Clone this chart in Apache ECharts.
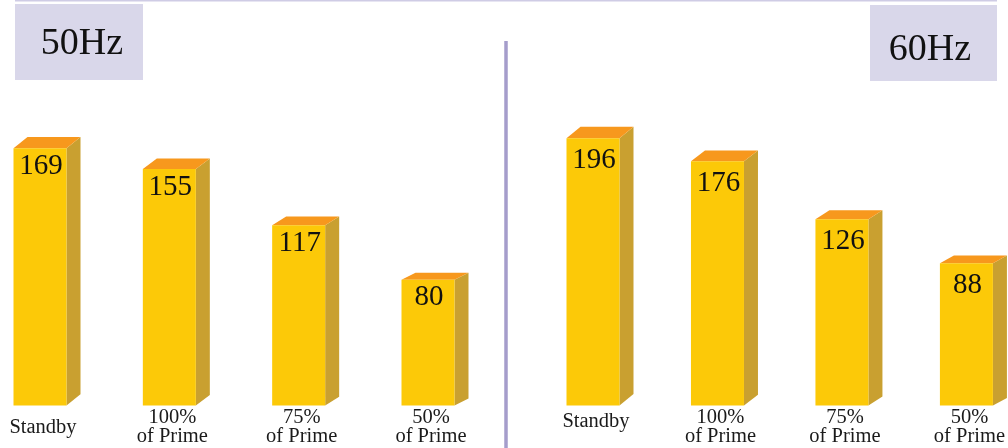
<!DOCTYPE html>
<html>
<head>
<meta charset="utf-8">
<style>html,body{margin:0;padding:0;background:#fff}#c{width:1008px;height:448px}</style>
<script src="https://cdn.jsdelivr.net/npm/echarts@6/dist/echarts.min.js"></script>
</head>
<body>
<div id="c"></div>
<script>
const categories = ['Standby', '100%\nof Prime', '75%\nof Prime', '50%\nof Prime'];
const values50 = [169, 155, 117, 80];
const values60 = [196, 176, 126, 88];
const panelTitles = ['50Hz', '60Hz'];

const FONT = '"Liberation Serif", "DejaVu Serif", serif';
const FRONT = '#fcc908', TOP = '#f7981d', SIDE = '#c9a030';

function makeRender(labelOffset) {
  return function (params, api) {
    const idx = api.value(0), v = api.value(1);
    const p = api.coord([idx, v]);
    const cs = params.coordSys;
    const bottom = cs.y + cs.height;
    const w = 53, dx = 14;
    const top = p[1];
    const h = bottom - top;
    const dy = 3 + 0.032 * h;
    const x0 = p[0] - w / 2, x1 = p[0] + w / 2;
    return {
      type: 'group',
      children: [
        { type: 'polygon', shape: { points: [[x1, top], [x1 + dx, top - dy], [x1 + dx, bottom - dy], [x1, bottom]] }, style: { fill: SIDE } },
        { type: 'polygon', shape: { points: [[x0, top], [x0 + dx, top - dy], [x1 + dx, top - dy], [x1, top]] }, style: { fill: TOP } },
        { type: 'rect', shape: { x: x0, y: top, width: w, height: h }, style: { fill: FRONT } },
        { type: 'text', style: { text: String(v), x: p[0] + 1, y: top + labelOffset, align: 'center', verticalAlign: 'middle', font: '29px ' + FONT, fill: '#111' } }
      ]
    };
  };
}

const axisLabelBase = {
  interval: 0, fontFamily: FONT, fontSize: 20.5, color: '#1a1a1a', lineHeight: 19,
  verticalAlign: 'middle', margin: 22, padding: [0, 0, 0, 6]
};

const chart = echarts.init(document.getElementById('c'));
chart.setOption({
  animation: false,
  grid: [
    { left: 40, width: 388, top: 102.5, height: 303 },
    { left: 593, width: 378, top: 127.8, height: 277.7 }
  ],
  xAxis: [
    { type: 'category', gridIndex: 0, data: categories, boundaryGap: false,
      axisLine: { show: false }, axisTick: { show: false }, splitLine: { show: false },
      axisLabel: Object.assign({}, axisLabelBase) },
    { type: 'category', gridIndex: 1, data: categories, boundaryGap: false,
      axisLine: { show: false }, axisTick: { show: false }, splitLine: { show: false },
      axisLabel: Object.assign({}, axisLabelBase, {
        formatter: v => v === 'Standby' ? '{s|' + v + '}' : v,
        rich: { s: { fontFamily: FONT, fontSize: 20.5, color: '#1a1a1a', padding: [0, 0, 12, 0] } }
      }) }
  ],
  yAxis: [
    { type: 'value', gridIndex: 0, min: -5, max: 200, show: false },
    { type: 'value', gridIndex: 1, min: -35, max: 205, show: false }
  ],
  series: [
    { type: 'custom', xAxisIndex: 0, yAxisIndex: 0, renderItem: makeRender(18),
      data: values50.map((v, i) => [i, v]), encode: { x: 0, y: 1 } },
    { type: 'custom', xAxisIndex: 1, yAxisIndex: 1, renderItem: makeRender(22),
      data: values60.map((v, i) => [i, v]), encode: { x: 0, y: 1 } }
  ],
  graphic: [
    { type: 'line', shape: { x1: 15, y1: 0.75, x2: 997, y2: 0.75 }, style: { stroke: '#cfcce5', lineWidth: 1.5 } },
    { type: 'line', shape: { x1: 506, y1: 41, x2: 506, y2: 448 }, style: { stroke: '#a59dcb', lineWidth: 3.5 } },
    { type: 'rect', shape: { x: 15, y: 4, width: 128, height: 76 }, style: { fill: '#d9d7ea' } },
    { type: 'rect', shape: { x: 870, y: 5, width: 127, height: 76 }, style: { fill: '#d9d7ea' } },
    { type: 'text', style: { text: panelTitles[0], x: 82, y: 44, align: 'center', verticalAlign: 'middle', font: '38px ' + FONT, fill: '#111' } },
    { type: 'text', style: { text: panelTitles[1], x: 930, y: 50, align: 'center', verticalAlign: 'middle', font: '38px ' + FONT, fill: '#111' } }
  ]
});
</script>
</body>
</html>
